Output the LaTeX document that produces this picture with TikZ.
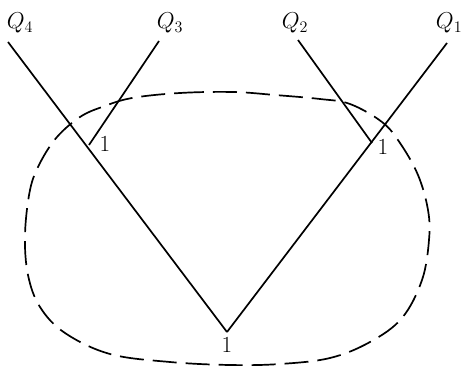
\documentclass[tikz,border=0pt]{standalone}
\usepackage{fix-cm}
\begin{document}
\begin{tikzpicture}[x=1pt, y=-1pt, line width=1.7pt,
    qlabel/.style={font=\fontsize{23}{27}\selectfont, inner sep=0pt},
    onelabel/.style={font=\fontsize{23}{27}\selectfont, inner sep=0pt}]
    \useasboundingbox (0,0) rectangle (463,369);

    % Free ends of the lines and the meeting points
    \coordinate (q4end) at (8,42);
    \coordinate (q3end) at (159,41);
    \coordinate (q2end) at (298,40);
    \coordinate (q1end) at (447,43);
    \coordinate (v) at (227,332);
    \coordinate (j3) at (89,145);
    \coordinate (j2) at (372,143);

    % Labels at the top
    \node[qlabel] (q4) at (20,23) {$Q_4$};
    \node[qlabel] (q3) at (170,23) {$Q_3$};
    \node[qlabel] (q2) at (295,23) {$Q_2$};
    \node[qlabel, anchor=east] (q1) at (463,23) {$Q_1$};

    % Lines
    \draw (q4end) -- (v);
    \draw (q1end) -- (v);
    \draw (q3end) -- (j3);
    \draw (q2end) -- (j2);

    % Vertex labels
    \node[onelabel] (n3) at (105,144) {1};
    \node[onelabel] (n2) at (383,147) {1};
    \node[onelabel] (nv) at (227,345) {1};

    % Dashed boundary
    \draw[dash pattern=on 24pt off 9pt] plot[smooth cycle, tension=0.6] coordinates {
        (132,98) (180,93) (233,92) (275,95) (320,99) (350,104) (382,122)
        (400,143) (418,175) (428,210) (429,240) (422,280) (402,318)
        (370,342) (330,358) (280,364) (230,365) (170,362) (110,354)
        (65,333) (40,307) (28,275) (25,235) (30,190) (40,163) (57,137)
        (80,117) (102,107)};
\end{tikzpicture}
\end{document}
